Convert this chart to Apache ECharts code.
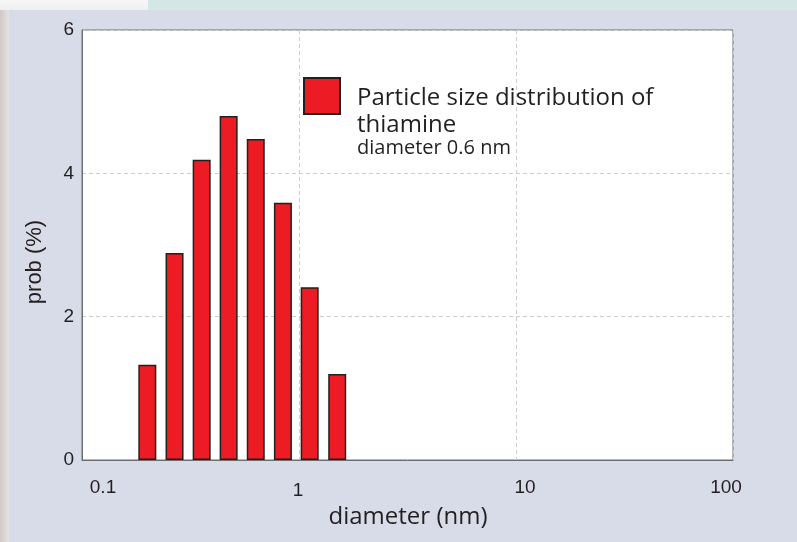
<!DOCTYPE html>
<html>
<head>
<meta charset="utf-8">
<script src="https://cdn.jsdelivr.net/npm/echarts@6/dist/echarts.min.js"></script>
<style>
html,body{margin:0;padding:0;width:797px;height:542px;overflow:hidden;background:#d8dbe8;}
#c{width:797px;height:542px;}
</style>
</head>
<body>
<div id="c"></div>
<script>
// Data
var diameters = [0.2, 0.267, 0.356, 0.474, 0.632, 0.843, 1.12, 1.5];
var probabilities = [1.33, 2.89, 4.19, 4.80, 4.48, 3.59, 2.41, 1.20];
var xTickLabels = ['0.1', '1', '10', '100'];
var seriesName = 'Particle size distribution of thiamine';
var legendSub = 'diameter 0.6 nm';

var barData = diameters.map(function (d, i) { return [d, probabilities[i]]; });

var chart = echarts.init(document.getElementById('c'), null, {renderer: 'canvas'});
var labelStyles = {'0.1': 'a', '1': 'b', '10': 'c', '100': 'd'};

chart.setOption({
  backgroundColor: '#d8dbe8',
  animation: false,
  graphic: [
    {type: 'rect', z: -10, silent: true, shape: {x: 0, y: 0, width: 148, height: 10},
      style: {fill: new echarts.graphic.LinearGradient(0, 0, 0, 1, [{offset: 0, color: '#f7f7f7'}, {offset: 1, color: '#efefef'}])}},
    {type: 'rect', z: -10, silent: true, shape: {x: 148, y: 0, width: 649, height: 10}, style: {fill: '#d3e8e5'}},
    {type: 'rect', z: -10, silent: true, shape: {x: 0, y: 10, width: 9, height: 532},
      style: {fill: new echarts.graphic.LinearGradient(0, 0, 1, 0, [{offset: 0, color: '#cfc8c7'}, {offset: 1, color: '#e6e3e3'}])}}
  ],
  grid: {
    left: 82, right: 64, top: 30, bottom: 82,
    show: true, backgroundColor: '#ffffff', borderColor: '#6d6e71', borderWidth: 1
  },
  legend: {
    show: true,
    left: 303, top: 35, padding: 0,
    itemWidth: 36, itemHeight: 36, icon: 'rect',
    data: [seriesName],
    formatter: function () {
      return 'Particle size distribution of\nthiamine\n{s|' + legendSub + '}';
    },
    textStyle: {
      fontFamily: 'Open Sans', fontSize: 24, lineHeight: 27, color: '#231f20',
      padding: [50, 0, 0, 12],
      rich: {s: {fontFamily: 'Open Sans', fontSize: 20, lineHeight: 18, color: '#231f20'}}
    }
  },
  xAxis: {
    type: 'log', logBase: 10, min: 0.1, max: 100,
    name: 'diameter (nm)', nameLocation: 'middle', nameGap: 43,
    nameTextStyle: {fontFamily: 'Open Sans', fontSize: 24, color: '#231f20', padding: [0, 0, 0, 1]},
    axisLine: {show: true, lineStyle: {color: '#6d6e71', width: 1}},
    axisTick: {show: false},
    minorTick: {show: false},
    splitLine: {show: true, lineStyle: {color: '#cccccc', type: [4, 3], width: 1}},
    axisLabel: {
      margin: 18,
      fontFamily: 'Liberation Sans', fontSize: 19, color: '#231f20',
      formatter: function (v) {
        var s = xTickLabels.filter(function (t) { return Math.abs(parseFloat(t) - v) < 1e-9 * Math.max(1, v); })[0];
        if (!s) return '';
        return '{' + labelStyles[s] + '|' + s + '}';
      },
      rich: {
        a: {fontFamily: 'Liberation Sans', fontSize: 19, color: '#231f20', padding: [0, 0, 0, 42]},
        b: {fontFamily: 'Liberation Sans', fontSize: 19, color: '#231f20', padding: [3, 2, 0, 0]},
        c: {fontFamily: 'Liberation Sans', fontSize: 19, color: '#231f20', padding: [0, 0, 0, 18]},
        d: {fontFamily: 'Liberation Sans', fontSize: 19, color: '#231f20', padding: [0, 14, 0, 0]}
      }
    }
  },
  yAxis: {
    type: 'value', min: 0, max: 6, interval: 2,
    name: 'prob (%)', nameLocation: 'middle', nameGap: 36, nameRotate: 90,
    nameTextStyle: {fontFamily: 'Liberation Sans', fontSize: 22, color: '#231f20', padding: [0, 34, 0, 0]},
    axisLine: {show: true, lineStyle: {color: '#6d6e71', width: 1}},
    axisTick: {show: false},
    splitLine: {show: true, lineStyle: {color: '#cccccc', type: [4, 3], width: 1}},
    axisLabel: {margin: 8, fontFamily: 'Liberation Sans', fontSize: 19, color: '#231f20'}
  },
  series: [{
    name: seriesName,
    type: 'bar',
    barWidth: 18,
    data: barData,
    itemStyle: {color: '#ed1c24', borderColor: '#231f20', borderWidth: 1.5}
  }]
});
</script>
</body>
</html>
